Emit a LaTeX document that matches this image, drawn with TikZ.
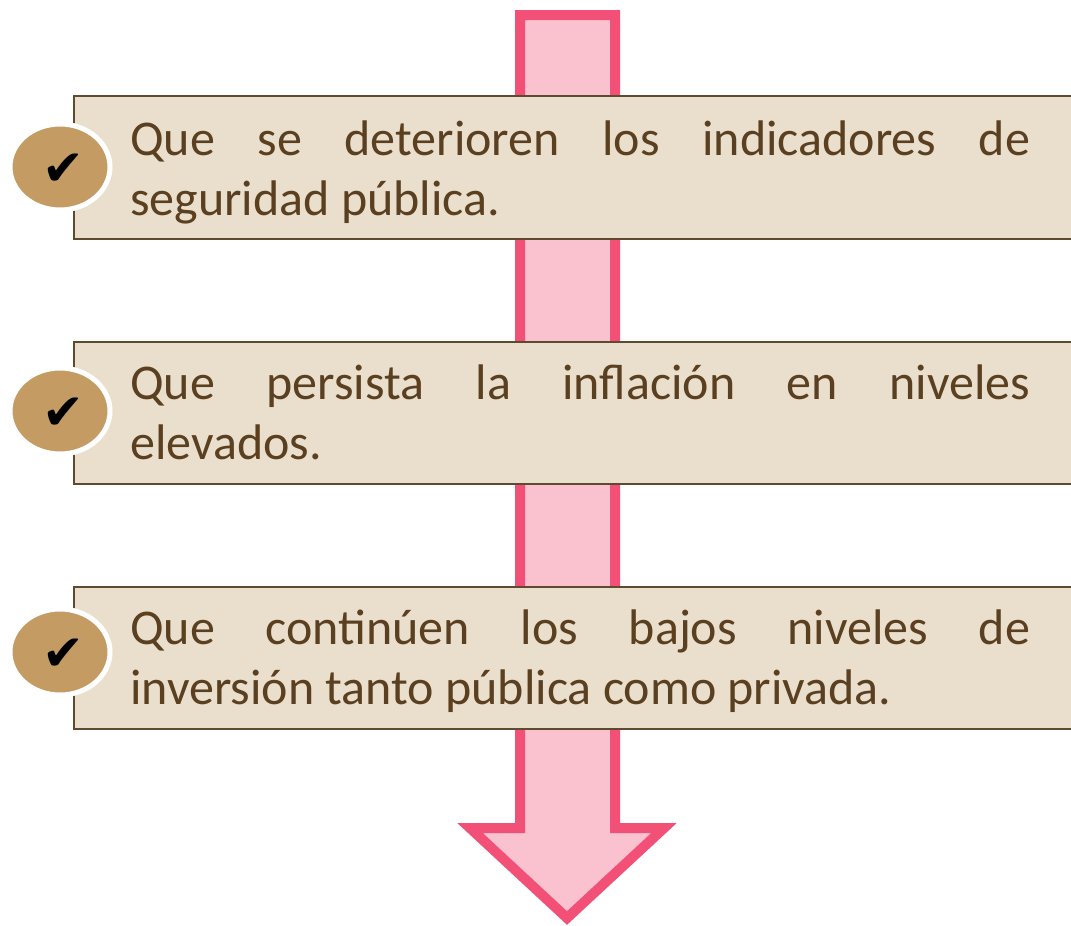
\documentclass[tikz,border=0pt]{standalone}
\usepackage{fontspec}
\setmainfont{Carlito}
\newfontfamily\symfont{DejaVu Sans}
\definecolor{boxfill}{HTML}{EADFCC}
\definecolor{boxline}{HTML}{5E4A2E}
\definecolor{txtcol}{HTML}{5A4020}
\definecolor{circfill}{HTML}{C49B63}
\definecolor{arrfill}{HTML}{FAC1CF}
\definecolor{arrline}{HTML}{F25077}
\tikzset{
  itembox/.style={draw=boxline, fill=boxfill, line width=1.5pt},
  itemtext/.style={text=txtcol, text width=900pt, align=justify, inner sep=0pt, anchor=base west,
    font=\fontsize{50}{60}\selectfont},
  bullet/.style={ellipse, draw=white, line width=5pt, fill=circfill, minimum width=100pt, minimum height=86pt, inner sep=0pt},
  checkmark/.style={text=black, font=\symfont\fontsize{50}{50}\selectfont, inner sep=0pt},
  bigarrow/.style={draw=arrline, fill=arrfill, line width=10pt, line join=miter}
}
\usetikzlibrary{shapes.geometric}
\begin{document}
\begin{tikzpicture}[x=1pt,y=-1pt]
\useasboundingbox (0,0) rectangle (1071,926);
\clip (0,0) rectangle (1071,926);
% arrow
\draw[bigarrow] (520,15) -- (615,15) -- (615,828) -- (664,828) -- (567,918) -- (470,828) -- (520,828) -- cycle;
% boxes
\draw[itembox] (1080,96) -- (74,96) -- (74,239) -- (1080,239);
\draw[itembox] (1080,342) -- (74,342) -- (74,484) -- (1080,484);
\draw[itembox] (1080,587) -- (74,587) -- (74,729) -- (1080,729);
% texts
\node[itemtext] (t1) at (130,155) {Que se deterioren los indicadores de\linebreak seguridad pública.};
\node[itemtext] (t2) at (130,399) {Que persista la inflación en niveles\linebreak elevados.};
\node[itemtext] (t3) at (130,644) {Que continúen los bajos niveles de\linebreak inversión tanto pública como privada.};
% bullets
\node[bullet] (c1) at (60,167) {};
\node[bullet] (c2) at (60,411) {};
\node[bullet] (c3) at (60,652) {};
\node[checkmark] (k1) at (63,170) {✔};
\node[checkmark] (k2) at (63,414) {✔};
\node[checkmark] (k3) at (63,655) {✔};
\end{tikzpicture}
\end{document}
